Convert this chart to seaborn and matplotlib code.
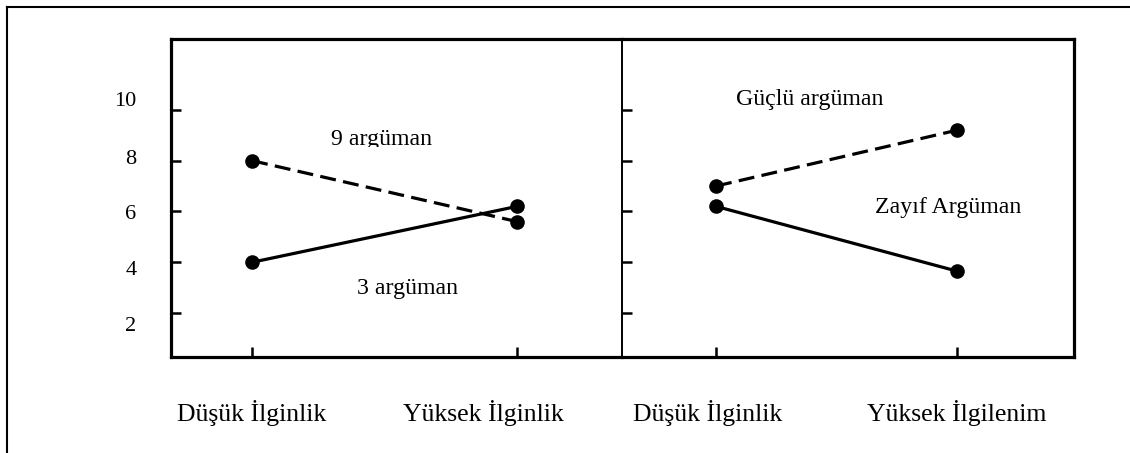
import matplotlib
matplotlib.use("Agg")
import matplotlib.pyplot as plt
from matplotlib.lines import Line2D
from matplotlib.patches import Rectangle
from matplotlib.transforms import ScaledTranslation
import pandas as pd
import seaborn as sns

# --- data -------------------------------------------------------------
left_levels = ["Düşük İlginlik", "Yüksek İlginlik"]
right_levels = ["Düşük İlginlik", "Yüksek İlgilenim"]
left_names = ["9 argüman", "3 argüman"]
right_names = ["Güçlü argüman", "Zayıf Argüman"]
nine_args = [8.0, 5.6]
three_args = [4.0, 6.2]
strong_args = [7.0, 9.2]
weak_args = [6.2, 3.65]
y_ticks = [2, 4, 6, 8, 10]
y_tick_labels = ["2", "4", "6", "8", "10"]

left_df = pd.DataFrame({
    "İlgi": left_levels * 2,
    "Tutum": nine_args + three_args,
    "Koşul": [left_names[0]] * 2 + [left_names[1]] * 2,
})
right_df = pd.DataFrame({
    "İlgi": right_levels * 2,
    "Tutum": strong_args + weak_args,
    "Koşul": [right_names[0]] * 2 + [right_names[1]] * 2,
})

# --- style ------------------------------------------------------------
sns.set_theme(style="white")
plt.rcParams["font.family"] = ["Liberation Serif", "DejaVu Serif"]

W, H = 1130, 453
fig = plt.figure(figsize=(W / 100, H / 100), dpi=100)
fig.patch.set_facecolor("white")


def px_box(x0, y0, x1, y1):
    return [x0 / W, 1 - y1 / H, (x1 - x0) / W, (y1 - y0) / H]


ax_l = fig.add_axes(px_box(171, 39, 622, 357))
ax_r = fig.add_axes(px_box(622, 39, 1074, 357))

DASH = (5, 2.3)
line_kw = dict(color="black", linewidth=2.3, markersize=10.5,
               markeredgewidth=0, markeredgecolor="black",
               legend=False, sort=False)

sns.lineplot(data=left_df, x="İlgi", y="Tutum", style="Koşul",
             dashes={left_names[0]: DASH, left_names[1]: ""},
             markers={left_names[0]: "o", left_names[1]: "o"},
             ax=ax_l, **line_kw)
sns.lineplot(data=right_df, x="İlgi", y="Tutum", style="Koşul",
             dashes={right_names[0]: DASH, right_names[1]: ""},
             markers={right_names[0]: "o", right_names[1]: "o"},
             ax=ax_r, **line_kw)

ylim = (0.27, 12.79)
for ax in (ax_l, ax_r):
    ax.set_ylim(*ylim)
    ax.set_xlabel("")
    ax.set_ylabel("")
    ax.set_facecolor("white")
    for side in ("left", "right", "top", "bottom"):
        ax.spines[side].set_visible(True)
        ax.spines[side].set_color("black")
        ax.spines[side].set_linewidth(2.3)
    ax.set_yticks(y_ticks)
    ax.tick_params(axis="both", which="major", direction="in", length=7,
                   width=1.8, color="black", left=True, bottom=True,
                   labelcolor="black")
    ax.tick_params(axis="x", labelsize=18.5, pad=31)

ax_l.set_xlim(-0.306, 1.396)
ax_r.set_xlim(-0.39, 1.485)

ax_l.spines["right"].set_visible(False)
ax_r.spines["left"].set_linewidth(1.4)

ax_l.set_yticklabels(y_tick_labels)
ax_l.tick_params(axis="y", labelsize=16, pad=25)
ax_r.tick_params(axis="y", labelleft=False)

# hand-set label nudges (pixels, upward positive)
y_label_nudge = [-11, -6, -1, 4, 11]
for lab, dy in zip(ax_l.get_yticklabels(), y_label_nudge):
    lab.set_transform(lab.get_transform() +
                      ScaledTranslation(0, dy / 100, fig.dpi_scale_trans))

x_label_nudge_l = [0, -34]
x_label_nudge_r = [-8, 0]
for ax, nudges in ((ax_l, x_label_nudge_l), (ax_r, x_label_nudge_r)):
    for lab, dx in zip(ax.get_xticklabels(), nudges):
        lab.set_transform(lab.get_transform() +
                          ScaledTranslation(dx / 100, 0, fig.dpi_scale_trans))

# --- condition labels -------------------------------------------------
txt_kw = dict(fontsize=17.2, color="black", ha="center", va="center")
t9 = ax_l.text(0.487, 8.6, left_names[0], fontsize=17.2, color="black",
               ha="center", va="baseline")
# the label's lower edge is cut just under its baseline
t9.set_clip_on(True)
t9.set_clip_path(Rectangle((0, 1 - 146.5 / H), 1, 146.5 / H,
                           transform=fig.transFigure))
ax_l.text(0.585, 2.98, left_names[1], **txt_kw)
ax_r.text(0.39, 10.39, right_names[0], **txt_kw)
ax_r.text(0.963, 6.17, right_names[1], **txt_kw)

# --- outer frame ------------------------------------------------------
fig.add_artist(Line2D([7 / W, 7 / W], [0, 1 - 7 / H], transform=fig.transFigure,
                      color="black", linewidth=1.5, solid_capstyle="projecting"))
fig.add_artist(Line2D([7 / W, 1], [1 - 7 / H, 1 - 7 / H], transform=fig.transFigure,
                      color="black", linewidth=1.5, solid_capstyle="projecting"))

fig.savefig("out.png", dpi=100, facecolor="white")
